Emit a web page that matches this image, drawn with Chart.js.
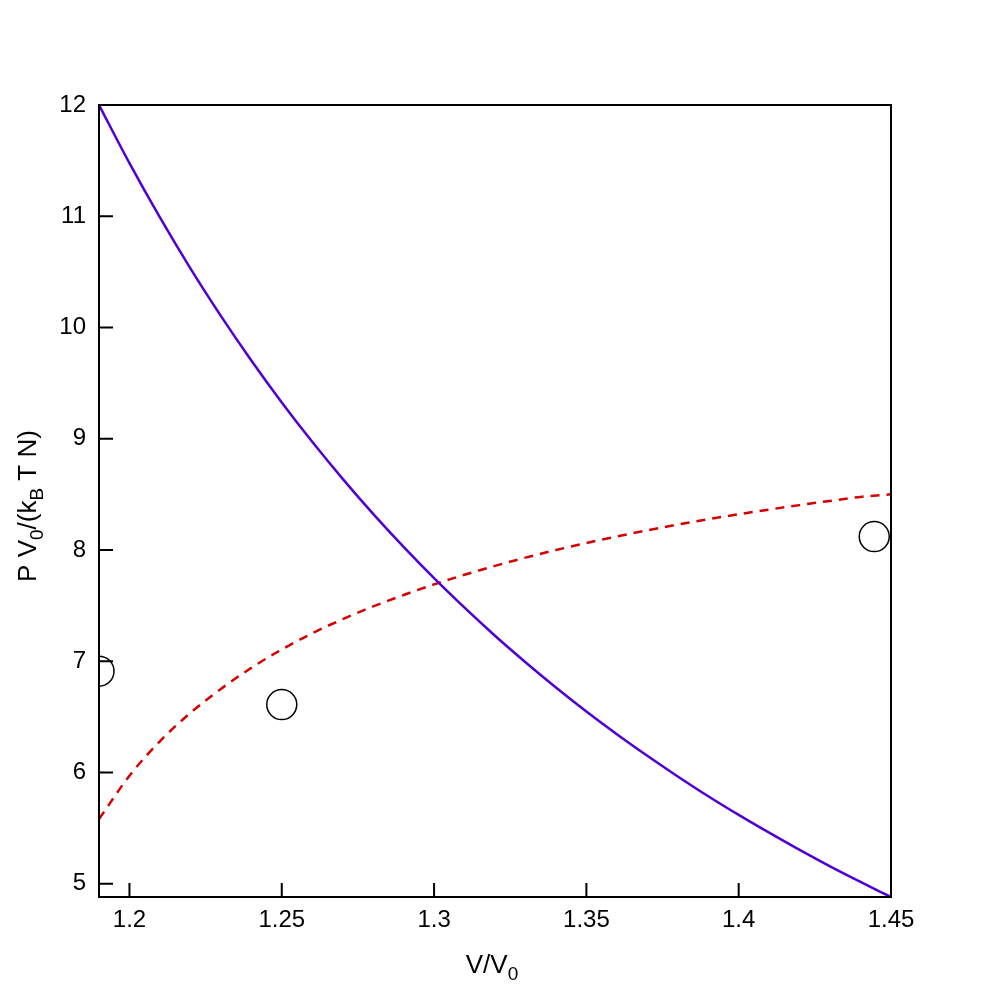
<!DOCTYPE html>
<html>
<head>
<meta charset="utf-8">
<script src="https://cdn.jsdelivr.net/npm/chart.js@4"></script>
<style>
  body { margin: 0; background: #fff; }
  canvas { display: block; }
</style>
</head>
<body>
<canvas id="pvChart" width="997" height="997"></canvas>
<script>
// eixo V/V0 comum as duas curvas
const volumes = [1.19, 1.20, 1.21, 1.22, 1.23, 1.24, 1.25, 1.26, 1.27, 1.28, 1.29, 1.30, 1.31, 1.32,
                 1.33, 1.34, 1.35, 1.36, 1.37, 1.38, 1.39, 1.40, 1.41, 1.42, 1.43, 1.44, 1.45];

// curva azul (solida)
const blueP = [12.000, 11.477, 10.989, 10.531, 10.104, 9.703, 9.326, 8.972, 8.639, 8.324, 8.027, 7.746, 7.481, 7.229,
               6.991, 6.764, 6.548, 6.344, 6.150, 5.964, 5.786, 5.618, 5.458, 5.303, 5.155, 5.015, 4.880];

// curva vermelha (tracejada)
const redP = [5.58, 5.97, 6.28, 6.535, 6.750, 6.940, 7.105, 7.250, 7.378, 7.492, 7.595, 7.690, 7.777, 7.857,
              7.931, 7.999, 8.062, 8.121, 8.176, 8.228, 8.276, 8.321, 8.363, 8.403, 8.441, 8.477, 8.50];

// circulos
const obsV = [1.19, 1.25, 1.4445];
const obsP = [6.91, 6.61, 8.12];

const xTicks = [1.2, 1.25, 1.3, 1.35, 1.4, 1.45];
const yTicks = [5, 6, 7, 8, 9, 10, 11, 12];

const FONT = '"Liberation Sans", Arial, sans-serif';

function pares(xs, ys) {
    return xs.map((x, i) => ({ x: x, y: ys[i] }));
}

// texto com subscritos
function drawParts(ctx, parts, x, y, size) {
    const subSize = Math.round(size * 0.72);
    let total = 0;
    parts.forEach(p => {
        ctx.font = (p[1] ? subSize : size) + 'px ' + FONT;
        total += ctx.measureText(p[0]).width;
    });
    let cx = x - total / 2;
    parts.forEach(p => {
        ctx.font = (p[1] ? subSize : size) + 'px ' + FONT;
        ctx.fillText(p[0], cx, p[1] ? y + size * 0.25 : y);
        cx += ctx.measureText(p[0]).width;
    });
}

const framePlugin = {
    id: 'frame',
    afterDraw(chart) {
        const ctx = chart.ctx;
        const a = chart.chartArea;
        const xs = chart.scales.x;
        const ys = chart.scales.y;
        ctx.save();
        ctx.strokeStyle = '#000';
        ctx.lineWidth = 2;
        ctx.strokeRect(a.left, a.top, a.right - a.left, a.bottom - a.top);
        ctx.beginPath();
        xs.ticks.forEach(t => {
            const px = xs.getPixelForValue(t.value);
            ctx.moveTo(px, a.bottom);
            ctx.lineTo(px, a.bottom - 14);
        });
        ys.ticks.forEach(t => {
            const py = ys.getPixelForValue(t.value);
            ctx.moveTo(a.left, py);
            ctx.lineTo(a.left + 14, py);
        });
        ctx.stroke();

        // titulos dos eixos
        ctx.fillStyle = '#000';
        ctx.textBaseline = 'alphabetic';
        ctx.textAlign = 'left';
        drawParts(ctx, [['V/V', false], ['0', true]], 492, 973, 26);
        ctx.translate(36, 506);
        ctx.rotate(-Math.PI / 2);
        drawParts(ctx, [['P V', false], ['0', true], ['/(k', false], ['B', true], [' T N)', false]], 0, 0, 26);
        ctx.restore();
    }
};

const ctx = document.getElementById('pvChart').getContext('2d');

new Chart(ctx, {
    type: 'scatter',
    data: {
        datasets: [
            {
                data: pares(volumes, blueP),
                showLine: true,
                borderColor: '#4f00d4',
                borderWidth: 2.5,
                pointRadius: 0,
                cubicInterpolationMode: 'monotone',
                clip: 0
            },
            {
                data: pares(volumes, redP),
                showLine: true,
                borderColor: '#d60000',
                borderWidth: 2.5,
                borderDash: [9, 7],
                pointRadius: 0,
                cubicInterpolationMode: 'monotone',
                clip: 0
            },
            {
                data: pares(obsV, obsP),
                showLine: false,
                pointStyle: 'circle',
                pointRadius: 15,
                borderColor: '#000',
                borderWidth: 1.5,
                backgroundColor: 'rgba(0,0,0,0)',
                clip: 0
            }
        ]
    },
    options: {
        responsive: false,
        animation: false,
        events: [],
        layout: { padding: { top: 105, right: 106, left: 0, bottom: 0 } },
        plugins: {
            legend: { display: false },
            tooltip: { enabled: false }
        },
        scales: {
            x: {
                type: 'linear',
                min: 1.19,
                max: 1.45,
                afterBuildTicks: s => { s.ticks = xTicks.map(v => ({ value: v })); },
                afterFit: s => { s.height = 100; },
                grid: { display: false, drawTicks: false },
                border: { display: false },
                ticks: {
                    color: '#000',
                    padding: 9,
                    maxRotation: 0,
                    font: { family: FONT, size: 24 },
                    callback: v => String(+v.toFixed(2))
                }
            },
            y: {
                type: 'linear',
                min: 4.88,
                max: 12,
                afterBuildTicks: s => { s.ticks = yTicks.map(v => ({ value: v })); },
                afterFit: s => { s.width = 99; },
                grid: { display: false, drawTicks: false },
                border: { display: false },
                ticks: {
                    color: '#000',
                    padding: 13,
                    font: { family: FONT, size: 24 },
                    callback: v => String(v)
                }
            }
        }
    },
    plugins: [framePlugin]
});
</script>
</body>
</html>
